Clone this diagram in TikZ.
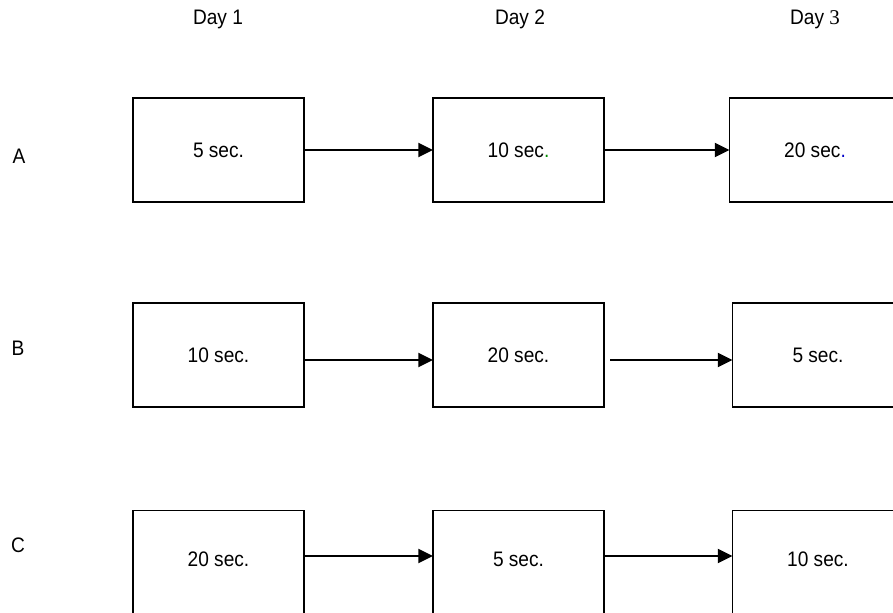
\documentclass[tikz,border=0pt]{standalone}
\usepackage{fontspec}
\setmainfont{Liberation Sans}[FakeStretch=0.91]
\newfontfamily\serifthree{Liberation Serif}
\usetikzlibrary{arrows.meta}
\definecolor{dotgreen}{RGB}{0,140,0}
\definecolor{dotblue}{RGB}{0,0,200}
\begin{document}
\begin{tikzpicture}[x=0.75pt,y=-0.75pt,
  font=\fontsize{15.75}{18}\selectfont,
  box/.style={draw,line width=1.4pt,minimum width=128.25pt,minimum height=78pt,inner sep=0pt,outer sep=0pt},
  lowbox/.style={box,text depth=4.5pt},
  arr/.style={line width=1.4pt,-{Triangle[length=11pt,width=10.5pt]}},
  lbl/.style={inner sep=0pt}]
\useasboundingbox (0,0) rectangle (893,613);
\clip (0,0) rectangle (893,613);
% headings
\node[lbl,anchor=base] (d1) at (218,25) {Day 1};
\node[lbl,anchor=base] (d2) at (520,25) {Day 2};
\node[lbl,anchor=base] (d3) at (815,25) {Day {\serifthree 3}};
% row labels
\node[lbl] (la) at (19,156) {A};
\node[lbl] (lb) at (18,348) {B};
\node[lbl] (lc) at (18,545) {C};
% row A
\node[box] (a1) at (218.5,150) {5 sec.};
\node[box] (a2) at (518.5,150) {10 sec\textcolor{dotgreen}{.}};
\node[box] (a3) at (815,150) {20 sec\textcolor{dotblue}{.}};
% row B
\node[box] (b1) at (218.5,355) {10 sec.};
\node[box] (b2) at (518.5,355) {20 sec.};
\node[box] (b3) at (818,355) {5 sec.};
% row C
\node[lowbox] (c1) at (218.5,562.5) {20 sec.};
\node[lowbox] (c2) at (518.5,562.5) {5 sec.};
\node[lowbox] (c3) at (818,562.5) {10 sec.};
% arrows
\draw[arr] (a1.east) -- (a2.west);
\draw[arr] (a2.east) -- (a3.west);
\draw[arr] ([yshift=-3.75pt]b1.east) -- ([yshift=-3.75pt]b2.west);
\draw[arr] ([xshift=4.5pt,yshift=-3.75pt]b2.east) -- ([yshift=-3.75pt]b3.west);
\draw[arr] ([yshift=4.875pt]c1.east) -- ([yshift=4.875pt]c2.west);
\draw[arr] ([yshift=4.875pt]c2.east) -- ([yshift=4.875pt]c3.west);
\end{tikzpicture}
\end{document}
